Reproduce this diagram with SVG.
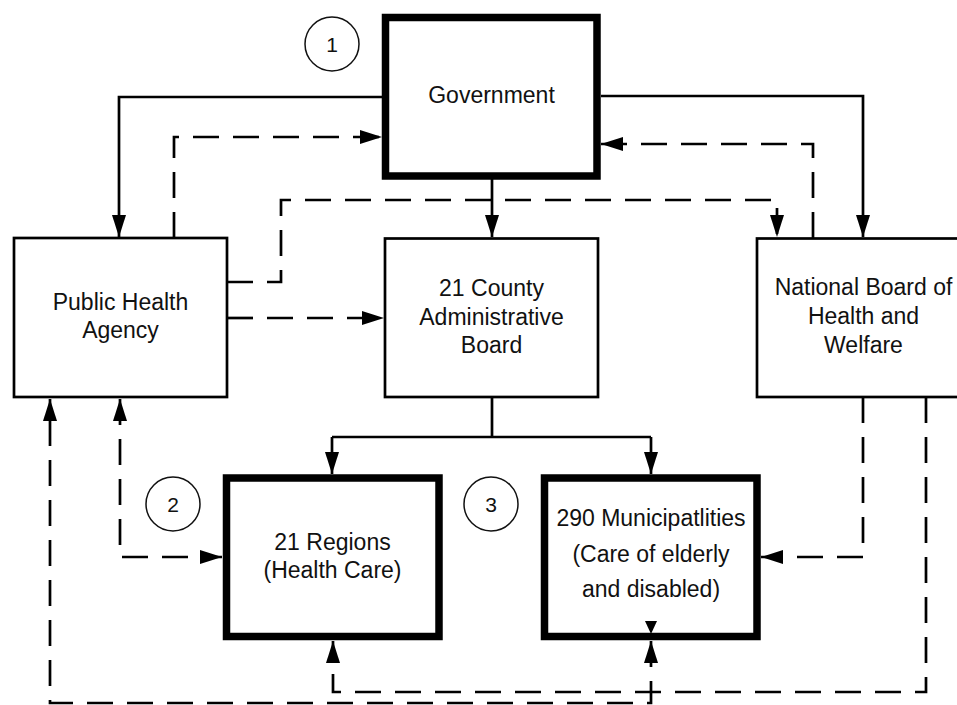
<svg xmlns="http://www.w3.org/2000/svg" width="957" height="705" viewBox="0 0 957 705">
<style>
.box{fill:#fff;stroke:#000;stroke-width:2.7}
.thick{fill:#fff;stroke:#000;stroke-width:7.5}
.lbl{font-family:"Liberation Sans",Arial,sans-serif;font-size:23px;fill:#111;text-anchor:middle}
.num{font-family:"Liberation Sans",Arial,sans-serif;font-size:21px;fill:#111;text-anchor:middle}
.circ{fill:none;stroke:#111;stroke-width:1.5}
.solid{fill:none;stroke:#000;stroke-width:2.7}
.dash{fill:none;stroke:#000;stroke-width:2.7;stroke-dasharray:26 14}
</style>
<defs>
<marker id="ah" markerUnits="userSpaceOnUse" viewBox="0 0 22 14" refX="22" refY="7" markerWidth="22" markerHeight="14" orient="auto-start-reverse">
<path d="M0,0 L22,7 L0,14 z" fill="#000" stroke="none"/>
</marker>
</defs>

<g id="connectors">
<path class="solid" d="M382,97 H119 V237" marker-end="url(#ah)"/>
<path class="dash" d="M174,238 V137 H382" marker-end="url(#ah)"/>
<path class="solid" d="M601,96 H863 V237" marker-end="url(#ah)"/>
<path class="dash" d="M813,238 V144 H601" marker-end="url(#ah)"/>
<path class="solid" d="M492,179 V237" marker-end="url(#ah)"/>
<path class="dash" d="M227,282 H281 V200 H777 V237" marker-end="url(#ah)"/>
<path class="dash" d="M227,318 H384" marker-end="url(#ah)"/>
<path class="solid" d="M492,397 V437 M332,437 H651"/>
<path class="solid" d="M332,437 V474" marker-end="url(#ah)"/>
<path class="solid" d="M651,437 V474" marker-end="url(#ah)"/>
<path class="dash" d="M120,399 V557 H222" marker-start="url(#ah)" marker-end="url(#ah)"/>
<path class="dash" d="M863,397 V557 H761" marker-end="url(#ah)"/>
<path class="dash" d="M926,397 V692 H333 V641" marker-end="url(#ah)"/>
<path class="dash" d="M651,641 V703 H50 V399" marker-start="url(#ah)" marker-end="url(#ah)"/>
</g>

<g id="government">
<rect class="thick" x="385.5" y="17.5" width="211.5" height="158.5"/>
<text class="lbl" x="491.5" y="103">Government</text>
</g>
<g id="badge1">
<circle class="circ" cx="332" cy="44" r="27"/>
<text class="num" x="332" y="51.5">1</text>
</g>
<g id="pha">
<rect class="box" x="14" y="238" width="213" height="159"/>
<text class="lbl" x="120.5" y="310">Public Health</text>
<text class="lbl" x="120.5" y="338">Agency</text>
</g>
<g id="county">
<rect class="box" x="385" y="238.5" width="213" height="158.5"/>
<text class="lbl" x="491.5" y="296">21 County</text>
<text class="lbl" x="491.5" y="324.5">Administrative</text>
<text class="lbl" x="491.5" y="353">Board</text>
</g>
<g id="nbhw">
<rect class="box" x="757" y="238.5" width="213" height="158.5"/>
<text class="lbl" x="863.5" y="295">National Board of</text>
<text class="lbl" x="863.5" y="324">Health and</text>
<text class="lbl" x="863.5" y="352.5">Welfare</text>
</g>
<g id="regions">
<rect class="thick" x="226.5" y="478" width="212.5" height="158.5"/>
<text class="lbl" x="332.5" y="549.5">21 Regions</text>
<text class="lbl" x="332.5" y="578">(Health Care)</text>
</g>
<g id="badge2">
<circle class="circ" cx="173" cy="504" r="27"/>
<text class="num" x="173" y="511.5">2</text>
</g>
<g id="badge3">
<circle class="circ" cx="491" cy="504" r="27"/>
<text class="num" x="491" y="511.5">3</text>
</g>
<g id="municipalities">
<rect class="thick" x="544.5" y="478" width="212.5" height="158.5"/>
<text class="lbl" x="651" y="526">290 Municipatlities</text>
<text class="lbl" x="651" y="561.5">(Care of elderly</text>
<text class="lbl" x="651" y="596.5">and disabled)</text>
<polygon points="645,621 657,621 651,634" fill="#000"/>
</g>
</svg>
